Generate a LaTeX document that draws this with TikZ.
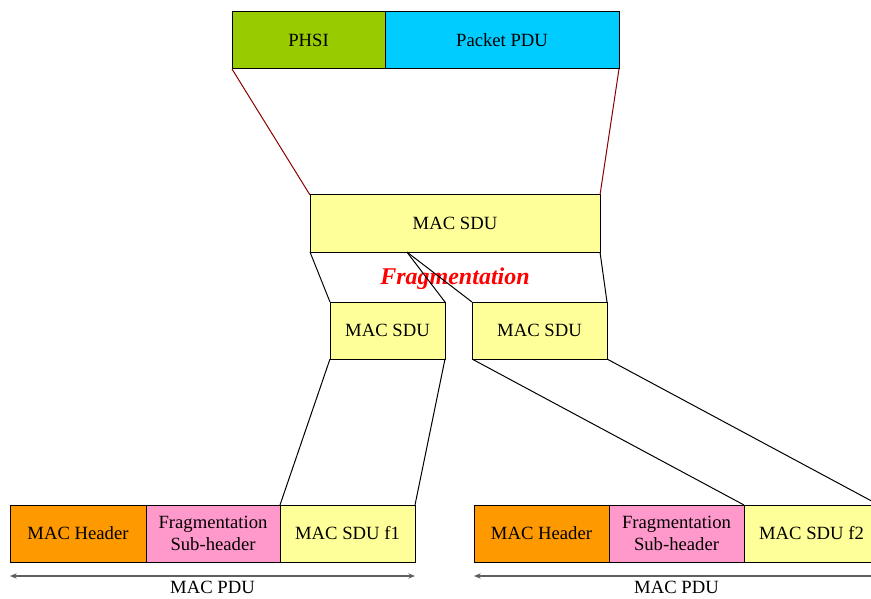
\documentclass[tikz,border=0pt]{standalone}
\usepackage{fontspec}
\setmainfont{Liberation Serif}
\usetikzlibrary{calc,arrows.meta}
\definecolor{phsifill}{HTML}{99CC00}
\definecolor{pktfill}{HTML}{00CCFF}
\definecolor{sdufill}{HTML}{FFFF99}
\definecolor{hdrfill}{HTML}{FF9900}
\definecolor{fragfill}{HTML}{FF99CC}
\definecolor{linkred}{HTML}{8B0000}
\definecolor{spanline}{HTML}{606060}
\begin{document}
\begin{tikzpicture}[x=0.75pt,y=-0.75pt,
  blk/.style={draw=black, line width=0.75pt, inner sep=0pt, outer sep=0pt,
    minimum height=42.75pt, align=center, font=\fontsize{14}{16}\selectfont},
  link/.style={line width=0.75pt},
  span/.style={draw=spanline, line width=1pt, {Stealth[length=5pt,width=4pt]}-{Stealth[length=5pt,width=4pt]}},
  spanlabel/.style={font=\fontsize{14}{16}\selectfont, inner sep=3.5pt, below}]
\useasboundingbox (0,0) rectangle (871,599);
\clip (0,0) rectangle (871,599);

% packet with header suppression index
\node[blk, fill=phsifill, minimum width=114.75pt] (phsi) at (308.5,40.5) {PHSI};
\node[blk, fill=pktfill, minimum width=175.5pt] (pdu) at (502,40.5) {Packet PDU};

% MAC SDU and its two fragments
\node[blk, fill=sdufill, minimum width=217.5pt] (sdu) at (455,223.5) {MAC SDU};
\node[blk, fill=sdufill, minimum width=86.25pt] (sdua) at (387.5,330.5) {MAC SDU};
\node[blk, fill=sdufill, minimum width=101.25pt] (sdub) at (539.5,330.5) {MAC SDU};
\node[text=red, font=\fontsize{18}{20}\selectfont\bfseries\itshape] (fraglabel) at (455,278.5) {Fragmentation};

% first MAC PDU
\node[blk, fill=hdrfill, minimum width=102pt] (hdrA) at (78,533.5) {MAC Header};
\node[blk, fill=fragfill, minimum width=100.5pt] (fragA) at (213,533.5) {Fragmentation\\Sub-header};
\node[blk, fill=sdufill, minimum width=101.25pt] (fA) at (347.5,533.5) {MAC SDU f1};

% second MAC PDU
\node[blk, fill=hdrfill, minimum width=101.25pt] (hdrB) at (541.5,533.5) {MAC Header};
\node[blk, fill=fragfill, minimum width=101.25pt] (fragB) at (676.5,533.5) {Fragmentation\\Sub-header};
\node[blk, fill=sdufill, minimum width=101.25pt] (fB) at (811.5,533.5) {MAC SDU f2};

% mapping lines
\draw[link, draw=linkred] (phsi.south west) -- (sdu.north west);
\draw[link, draw=linkred] (pdu.south east) -- (sdu.north east);
\coordinate (split) at ($(sdu.south west)!0.334!(sdu.south east)$);
\draw[link] (sdu.south west) -- (sdua.north west);
\draw[link] (split) -- (sdua.north east);
\draw[link] (split) -- (sdub.north west);
\draw[link] (sdu.south east) -- (sdub.north east);
\draw[link] (sdua.south west) -- (fA.north west);
\draw[link] (sdua.south east) -- (fA.north east);
\draw[link] (sdub.south west) -- (fB.north west);
\draw[link] (sdub.south east) -- (fB.north east);

% PDU extents
\coordinate (spanA1) at ($(hdrA.south west)+(0,14)$);
\coordinate (spanA2) at ($(fA.south east)+(0,14)$);
\draw[span] (spanA1) -- (spanA2) node[midway, spanlabel] (pdulabelA) {MAC PDU};
\coordinate (spanB1) at ($(hdrB.south west)+(0,14)$);
\coordinate (spanB2) at ($(fB.south east)+(0,14)$);
\draw[span] (spanB1) -- (spanB2) node[midway, spanlabel] (pdulabelB) {MAC PDU};
\end{tikzpicture}
\end{document}
